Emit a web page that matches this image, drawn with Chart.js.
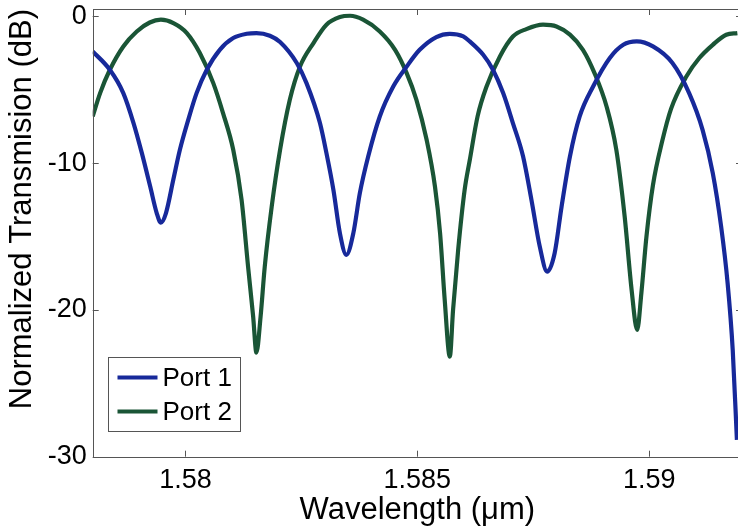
<!DOCTYPE html>
<html><head><meta charset="utf-8">
<script src="https://cdn.jsdelivr.net/npm/chart.js@4.4.1/dist/chart.umd.min.js"></script>
<style>html,body{margin:0;padding:0;background:#fff;overflow:hidden;width:738px;height:529px}canvas{display:block}</style>
</head><body>
<canvas id="c" width="744" height="529"></canvas>
<script>
const seriesNames = ['Port 1', 'Port 2'];
const seriesColors = ['#17299a', '#1a5536'];

const port1Wavelength = [1.578,1.57837,1.57866,1.57888,1.57906,1.57924,1.57938,1.57947,1.57958,1.57974,1.57988,1.58006,1.58024,1.58046,1.58074,1.58103,1.58132,1.58153,1.58182,1.58204,1.5824,1.58261,1.5829,1.58304,1.58319,1.58333,1.58347,1.58362,1.58376,1.58394,1.58419,1.58448,1.58477,1.58505,1.58541,1.5857,1.58599,1.58613,1.58642,1.58663,1.58685,1.58706,1.58728,1.58746,1.58764,1.5878,1.58796,1.58811,1.58829,1.5885,1.58879,1.58915,1.58944,1.58973,1.59008,1.5905,1.59086,1.59115,1.59137,1.59155,1.59169,1.5918,1.59189];
const port1Transmission = [-2.39,-3.64,-5.23,-7.27,-9.32,-11.6,-13.4,-14.05,-13.4,-11.1,-9.09,-7.05,-5.23,-3.64,-2.28,-1.48,-1.19,-1.14,-1.32,-1.75,-3.18,-4.55,-7.27,-9.32,-11.82,-14.77,-16.25,-14.77,-12.05,-9.55,-6.82,-4.78,-3.42,-2.28,-1.41,-1.19,-1.37,-1.71,-2.62,-3.64,-5.23,-7.27,-9.55,-12.5,-15.69,-17.39,-16.14,-12.96,-9.55,-6.82,-4.78,-2.84,-1.94,-1.71,-2.05,-3.18,-5.23,-7.73,-10.68,-14.32,-18.18,-22.73,-28.86];

const port2Wavelength = [1.578,1.57816,1.57837,1.57866,1.57895,1.57923,1.57947,1.57974,1.58003,1.58031,1.5806,1.58081,1.58103,1.58121,1.58135,1.58146,1.58153,1.58162,1.58171,1.58186,1.58204,1.58225,1.58247,1.58276,1.58304,1.58333,1.58355,1.58383,1.58419,1.58452,1.58477,1.58498,1.5852,1.58538,1.58549,1.58559,1.5857,1.58577,1.58588,1.58602,1.58613,1.5863,1.58649,1.58678,1.58706,1.58735,1.58771,1.588,1.58829,1.58857,1.58882,1.58908,1.58929,1.58947,1.58962,1.58974,1.58983,1.58994,1.59008,1.59028,1.59047,1.5908,1.59108,1.59137,1.59166,1.5919];
const port2Transmission = [-6.82,-5.23,-3.64,-2.05,-1.03,-0.42,-0.23,-0.46,-1.14,-2.5,-4.55,-6.59,-9.09,-12.5,-17.05,-20.46,-22.91,-20.46,-17.05,-12.96,-9.1,-5.69,-3.42,-1.82,-0.57,-0.05,0.04,-0.23,-1.03,-2.28,-3.87,-5.69,-8.41,-11.6,-14.77,-19.32,-23.18,-20.0,-15.91,-11.82,-9.8,-6.8,-4.8,-2.73,-1.37,-0.87,-0.57,-0.69,-1.25,-2.28,-3.87,-6.14,-9.09,-13.64,-18.64,-21.36,-18.86,-15.0,-11.5,-8.5,-6.3,-4.1,-2.84,-1.94,-1.25,-1.14];

const xTickValues = [1.58, 1.585, 1.59];
const xTickLabels = ['1.58', '1.585', '1.59'];
const yTickValues = [0, -10, -20, -30];
const yTickLabels = ['0', '-10', '-20', '-30'];

const xLabel = 'Wavelength (\u03bcm)';
const yLabel = 'Normalized Transmision (dB)';

function pts(xs, ys) { return xs.map((x, i) => ({ x: x, y: ys[i] })); }

const FONT = "'Liberation Sans', Arial, Helvetica, sans-serif";
const AXIS_COLOR = '#555555';

const boxPlugin = {
  id: 'boxTicks',
  afterDraw(chart) {
    const ctx = chart.ctx, a = chart.chartArea;
    const xs = chart.scales.x, ys = chart.scales.y;
    ctx.save();
    ctx.strokeStyle = AXIS_COLOR;
    ctx.lineWidth = 1;
    ctx.strokeRect(Math.round(a.left) + 0.5, Math.round(a.top) + 0.5, Math.round(a.right - a.left), Math.round(a.bottom - a.top));
    const tl = 6;
    ctx.beginPath();
    xs.ticks.forEach(t => {
      const px = Math.round(xs.getPixelForValue(t.value)) + 0.5;
      ctx.moveTo(px, a.bottom); ctx.lineTo(px, a.bottom - tl);
      ctx.moveTo(px, a.top); ctx.lineTo(px, a.top + tl);
    });
    ys.ticks.forEach(t => {
      const py = Math.round(ys.getPixelForValue(t.value)) + 0.5;
      ctx.moveTo(a.left, py); ctx.lineTo(a.left + tl, py);
      ctx.moveTo(a.right, py); ctx.lineTo(a.right - tl, py);
    });
    ctx.stroke();
    ctx.restore();
  }
};

const legendPlugin = {
  id: 'boxLegend',
  afterDatasetsDraw(chart) {
    const ctx = chart.ctx, a = chart.chartArea;
    const bx = Math.round(a.left + 15) + 0.5, by = Math.round(a.bottom - 100) + 0.5, bw = 132, bh = 74;
    ctx.save();
    ctx.fillStyle = '#ffffff';
    ctx.fillRect(bx, by, bw, bh);
    ctx.strokeStyle = AXIS_COLOR;
    ctx.lineWidth = 1;
    ctx.strokeRect(bx, by, bw, bh);
    ctx.font = '26px ' + FONT;
    ctx.textBaseline = 'middle';
    chart.data.datasets.forEach((ds, i) => {
      const y = by + 20 + i * 34;
      ctx.strokeStyle = ds.borderColor;
      ctx.lineWidth = ds.borderWidth;
      ctx.beginPath();
      ctx.moveTo(bx + 9, y); ctx.lineTo(bx + 49, y);
      ctx.stroke();
      ctx.fillStyle = '#000';
      ctx.fillText(ds.label, bx + 54, y + 1);
    });
    ctx.restore();
  }
};

new Chart(document.getElementById('c'), {
  type: 'line',
  data: {
    datasets: [
      { label: seriesNames[0], data: pts(port1Wavelength, port1Transmission), borderColor: seriesColors[0], borderWidth: 4.2, pointRadius: 0, cubicInterpolationMode: 'monotone', fill: false },
      { label: seriesNames[1], data: pts(port2Wavelength, port2Transmission), borderColor: seriesColors[1], borderWidth: 4.2, pointRadius: 0, cubicInterpolationMode: 'monotone', fill: false }
    ]
  },
  options: {
    responsive: false,
    animation: false,
    devicePixelRatio: 1,
    layout: { padding: { top: 9, right: 2, left: 0, bottom: 0 } },
    plugins: { legend: { display: false }, tooltip: { enabled: false } },
    scales: {
      x: {
        type: 'linear', min: 1.578, max: 1.592,
        grid: { display: false, drawTicks: false },
        border: { display: false },
        afterBuildTicks: s => { s.ticks = xTickValues.map(v => ({ value: v })); },
        afterFit: s => { s.height = 72.3; s.paddingLeft = 0; s.paddingRight = 0; },
        ticks: {
          autoSkip: false, maxRotation: 0, padding: 8, color: '#000',
          font: { family: FONT, size: 27 },
          callback: v => { const i = xTickValues.indexOf(v); return i >= 0 ? xTickLabels[i] : ''; }
        },
        title: { display: true, text: xLabel, color: '#000', font: { family: FONT, size: 31 }, padding: { top: 0, bottom: 0 } }
      },
      y: {
        type: 'linear', min: -30, max: 0.5,
        grid: { display: false, drawTicks: false },
        border: { display: false },
        afterBuildTicks: s => { s.ticks = yTickValues.map(v => ({ value: v })); },
        afterFit: s => { s.width = 92.7; s.paddingTop = 0; s.paddingBottom = 0; },
        ticks: {
          autoSkip: false, padding: 6, color: '#000',
          font: { family: FONT, size: 27 },
          callback: v => { const i = yTickValues.indexOf(v); return i >= 0 ? yTickLabels[i] : ''; }
        },
        title: { display: true, text: yLabel, align: 'end', color: '#000', font: { family: FONT, size: 31 }, padding: { top: 4, bottom: 0 } }
      }
    }
  },
  plugins: [boxPlugin, legendPlugin]
});
</script></body></html>
